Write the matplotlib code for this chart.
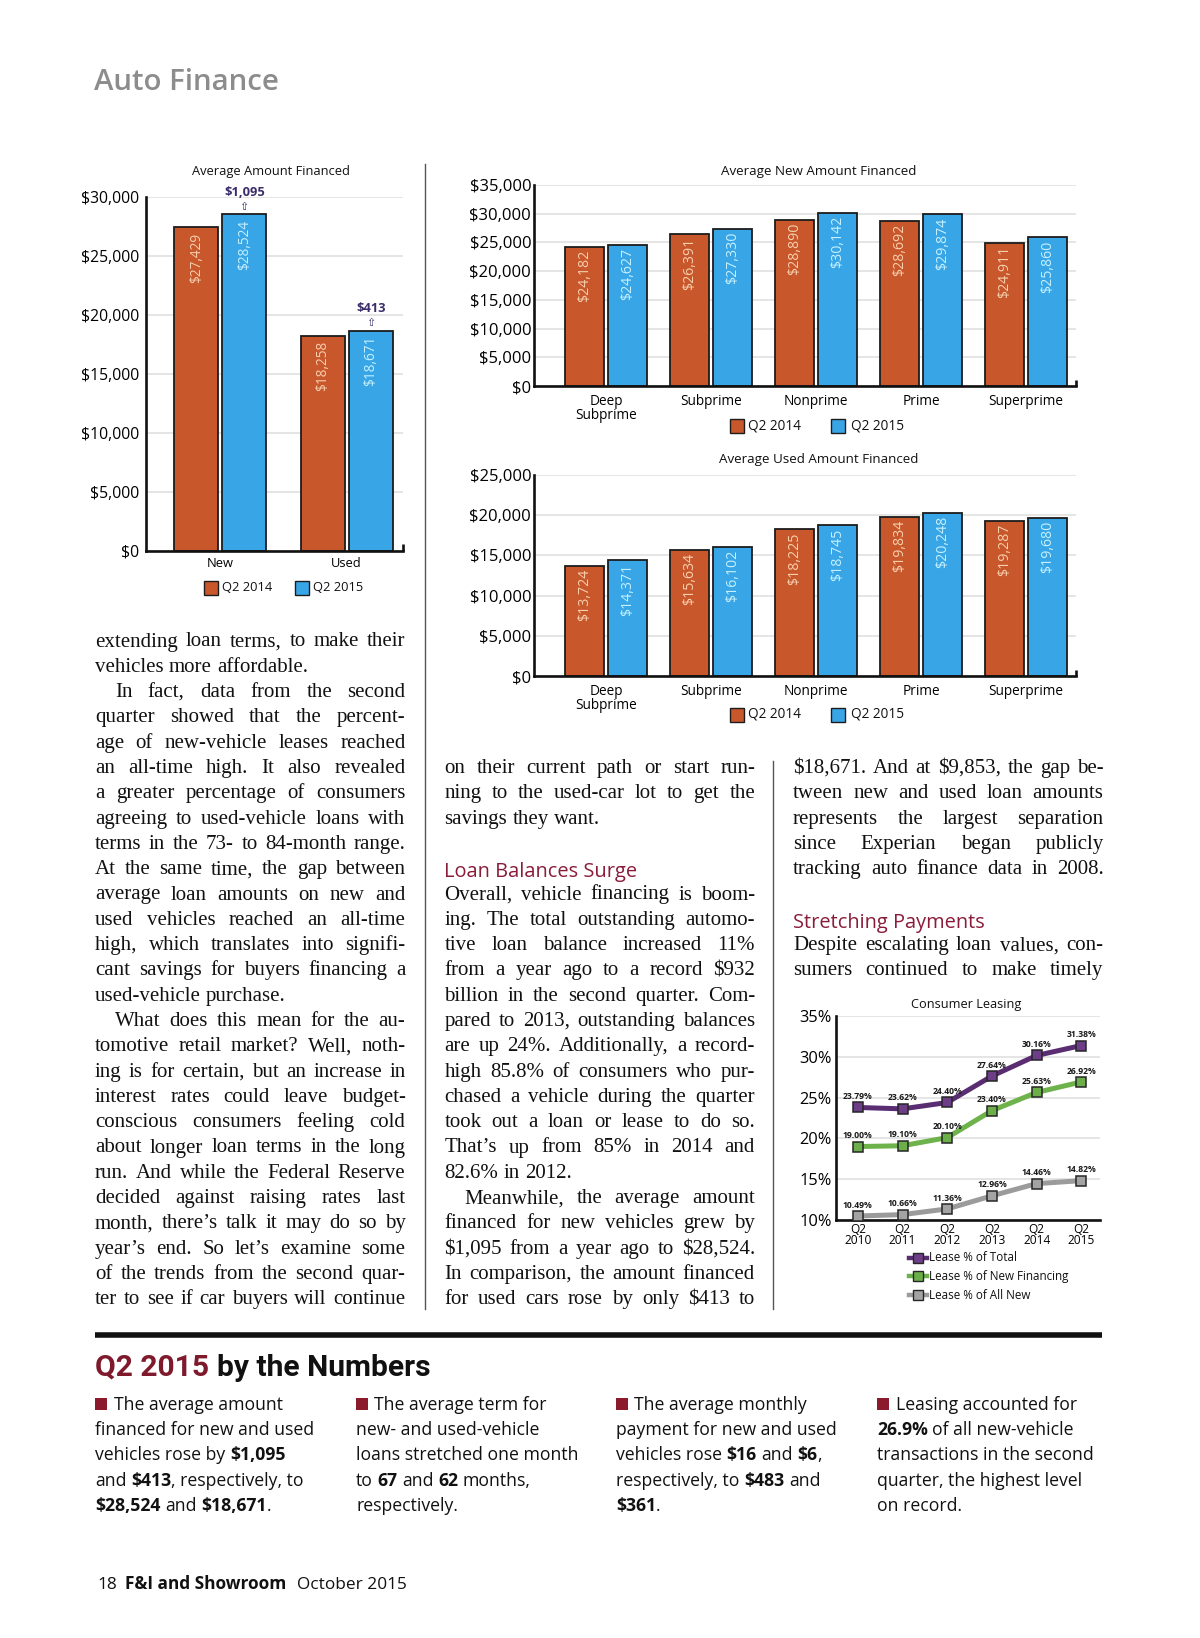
import matplotlib
matplotlib.use('Agg')
import matplotlib.pyplot as plt
from matplotlib.font_manager import FontProperties
from matplotlib.patches import Rectangle
from matplotlib.lines import Line2D
import numpy as np

plt.rcParams['text.parse_math'] = False

# ---------------- data ----------------
overall_cats = ["New", "Used"]
overall_2014 = [27429, 18258]
overall_2015 = [28524, 18671]
overall_change = ["$1,095", "$413"]

tier_cats = ["Deep\nSubprime", "Subprime", "Nonprime", "Prime", "Superprime"]
new_2014 = [24182, 26391, 28890, 28692, 24911]
new_2015 = [24627, 27330, 30142, 29874, 25860]
used_2014 = [13724, 15634, 18225, 19834, 19287]
used_2015 = [14371, 16102, 18745, 20248, 19680]

lease_years = ["Q2\n2010", "Q2\n2011", "Q2\n2012", "Q2\n2013", "Q2\n2014", "Q2\n2015"]
lease_total = [23.79, 23.62, 24.40, 27.64, 30.16, 31.38]
lease_newfin = [19.00, 19.10, 20.10, 23.40, 25.63, 26.92]
lease_allnew = [10.49, 10.66, 11.36, 12.96, 14.46, 14.82]
lease_names = ["Lease % of Total", "Lease % of New Financing", "Lease % of All New"]
series_names = ["Q2 2014", "Q2 2015"]

# ---------------- text ----------------
col1 = [
    ("j", "extending loan terms, to make their"),
    ("l", "vehicles more affordable."),
    ("i", "In fact, data from the second"),
    ("j", "quarter showed that the percent-"),
    ("j", "age of new-vehicle leases reached"),
    ("j", "an all-time high. It also revealed"),
    ("j", "a greater percentage of consumers"),
    ("j", "agreeing to used-vehicle loans with"),
    ("j", "terms in the 73- to 84-month range."),
    ("j", "At the same time, the gap between"),
    ("j", "average loan amounts on new and"),
    ("j", "used vehicles reached an all-time"),
    ("j", "high, which translates into signifi-"),
    ("j", "cant savings for buyers financing a"),
    ("l", "used-vehicle purchase."),
    ("i", "What does this mean for the au-"),
    ("j", "tomotive retail market? Well, noth-"),
    ("j", "ing is for certain, but an increase in"),
    ("j", "interest rates could leave budget-"),
    ("j", "conscious consumers feeling cold"),
    ("j", "about longer loan terms in the long"),
    ("j", "run. And while the Federal Reserve"),
    ("j", "decided against raising rates last"),
    ("j", "month, there\u2019s talk it may do so by"),
    ("j", "year\u2019s end. So let\u2019s examine some"),
    ("j", "of the trends from the second quar-"),
    ("j", "ter to see if car buyers will continue"),
]
col2 = [
    ("j", "on their current path or start run-"),
    ("j", "ning to the used-car lot to get the"),
    ("l", "savings they want."),
    ("b", ""),
    ("h", "Loan Balances Surge"),
    ("j", "Overall, vehicle financing is boom-"),
    ("j", "ing. The total outstanding automo-"),
    ("j", "tive loan balance increased 11%"),
    ("j", "from a year ago to a record $932"),
    ("j", "billion in the second quarter. Com-"),
    ("j", "pared to 2013, outstanding balances"),
    ("j", "are up 24%. Additionally, a record-"),
    ("j", "high 85.8% of consumers who pur-"),
    ("j", "chased a vehicle during the quarter"),
    ("j", "took out a loan or lease to do so."),
    ("j", "That\u2019s up from 85% in 2014 and"),
    ("l", "82.6% in 2012."),
    ("i", "Meanwhile, the average amount"),
    ("j", "financed for new vehicles grew by"),
    ("j", "$1,095 from a year ago to $28,524."),
    ("j", "In comparison, the amount financed"),
    ("j", "for used cars rose by only $413 to"),
]
col3 = [
    ("j", "$18,671. And at $9,853, the gap be-"),
    ("j", "tween new and used loan amounts"),
    ("j", "represents the largest separation"),
    ("j", "since Experian began publicly"),
    ("j", "tracking auto finance data in 2008."),
    ("b", ""),
    ("h", "Stretching Payments"),
    ("j", "Despite escalating loan values, con-"),
    ("j", "sumers continued to make timely"),
]
bullets = [
    ["The average amount", "financed for new and used", "vehicles rose by **$1,095**",
     "and **$413**, respectively, to", "**$28,524** and **$18,671**."],
    ["The average term for", "new- and used-vehicle", "loans stretched one month",
     "to **67** and **62** months,", "respectively."],
    ["The average monthly", "payment for new and used", "vehicles rose **$16** and **$6**,",
     "respectively, to **$483** and", "**$361**."],
    ["Leasing accounted for", "**26.9%** of all new-vehicle", "transactions in the second",
     "quarter, the highest level", "on record."],
]

# ---------------- style ----------------
ORANGE = '#c8572c'
BLUE = '#38a6e6'
EDGE = '#1c1c1c'
LBL_OR = '#f8cfae'
LBL_BL = '#c6f0ff'
GRID = '#e3e3e3'
CRIMSON = '#8a1c3a'
SANS = ['Open Sans', 'DejaVu Sans']
SERIF = ['Liberation Serif', 'DejaVu Serif']
HEADF = ['Roboto', 'Liberation Sans', 'DejaVu Sans']

W, H = 1200, 1638
fig = plt.figure(figsize=(W / 100, H / 100), dpi=100)
fig.patch.set_facecolor('white')
ov = fig.add_axes([0, 0, 1, 1])
ov.set_xlim(0, W)
ov.set_ylim(H, 0)
ov.axis('off')
renderer = fig.canvas.get_renderer()


def tw(s, prop):
    w, h, d = renderer.get_text_width_height_descent(s, prop, ismath=False)
    return w


def px_axes(x0, y0, x1, y1):
    return fig.add_axes([x0 / W, 1 - y1 / H, (x1 - x0) / W, (y1 - y0) / H])


# ---------------- page furniture ----------------
ov.text(94, 89.5, "Auto Finance", fontsize=21.2, family=SANS, weight='semibold',
        color='#8c8c8c', va='baseline', ha='left')

ov.plot([424.5, 424.5], [164, 1309], color='#555555', lw=1.0)
ov.plot([773, 773], [761, 1309], color='#555555', lw=1.0)
ov.plot([95, 1102], [1335, 1335], color='#111111', lw=4.0, solid_capstyle='butt')

# body text: choose the largest size (up to 15pt) where every justified line fits
COLW = 310.5


def fits(size):
    prop = FontProperties(family=SERIF, size=size)
    sp = tw("a a", prop) - tw("aa", prop)
    worst = 0
    for lines in (col1, col2, col3):
        for flag, txt in lines:
            if flag in ('j', 'i', 'l'):
                words = txt.split(' ')
                nat = sum(tw(w, prop) for w in words) + 0.72 * sp * (len(words) - 1)
                nat += 20 if flag == 'i' else 0
                worst = max(worst, nat)
    return worst <= COLW


body_size = 15.0
while body_size > 11 and not fits(body_size):
    body_size -= 0.1
body_prop = FontProperties(family=SERIF, size=body_size)
head_prop = FontProperties(family=SANS, size=14.4)
space_w = tw("a a", body_prop) - tw("aa", body_prop)


def draw_column(lines, x0, x1, y0, step):
    for k, (flag, txt) in enumerate(lines):
        y = y0 + k * step
        if flag == 'b':
            continue
        if flag == 'h':
            ov.text(x0, y + 3, txt, fontproperties=head_prop, color=CRIMSON,
                    va='baseline', ha='left')
            continue
        indent = 20 if flag == 'i' else 0
        words = txt.split(' ')
        widths = [tw(w, body_prop) for w in words]
        if flag in ('j', 'i') and len(words) > 1:
            gap = (x1 - x0 - indent - sum(widths)) / (len(words) - 1)
        else:
            gap = space_w
        x = x0 + indent
        for w, wd in zip(words, widths):
            ov.text(x, y, w, fontproperties=body_prop, color='#111111',
                    va='baseline', ha='left')
            x += wd + gap


draw_column(col1, 95, 95 + COLW, 646.5, 25.3)
draw_column(col2, 444.5, 444.5 + COLW, 773, 25.3)
draw_column(col3, 793, 793 + COLW, 773, 25.3)


# mixed bold segments
def draw_segments(x, y, line, size, family):
    parts = line.split('**')
    for idx, part in enumerate(parts):
        if part == '':
            continue
        bold = idx % 2 == 1
        prop = FontProperties(family=family, size=size, weight='bold' if bold else 'normal')
        sp = tw("a a", prop) - tw("aa", prop)
        if part.startswith(' '):
            x += sp
        core = part.strip(' ')
        ov.text(x, y, core, fontproperties=prop, color='#111111', va='baseline', ha='left')
        x += tw(core, prop)
        if part.endswith(' ') and core:
            x += sp
    return x


# Q2 2015 by the Numbers (fit to the original width)
hsize = 23.0
while hsize > 12:
    hp = FontProperties(family=HEADF, size=hsize, weight='bold')
    if tw("Q2 2015 by the Numbers", hp) <= 336:
        break
    hsize -= 0.2
hp = FontProperties(family=HEADF, size=hsize, weight='bold')
hsp = tw("a a", hp) - tw("aa", hp)
ov.text(95, 1376, "Q2 2015", fontproperties=hp, color='#7e1a2c', va='baseline', ha='left')
ov.text(95 + tw("Q2 2015", hp) + hsp, 1376, "by the Numbers", fontproperties=hp,
        color='#111111', va='baseline', ha='left')

bx = [95, 356, 616, 877]
by = [1410, 1435, 1460, 1486, 1511]
for c, lines in enumerate(bullets):
    for r, line in enumerate(lines):
        x = bx[c]
        if r == 0:
            ov.add_patch(Rectangle((bx[c], by[r] - 12.5), 11.5, 12.5,
                                   facecolor='#8b1a2c', edgecolor='none'))
            x = bx[c] + 18.5
        draw_segments(x, by[r], line, 12.7, SANS)

# footer
fprop = FontProperties(family=SANS, size=12.4)
fbold = FontProperties(family=SANS, size=12.4, weight='bold')
ov.text(97, 1589, "18", fontproperties=fprop, va='baseline', color='#111111')
ov.text(125, 1589, "F&I and Showroom", fontproperties=fbold, va='baseline', color='#111111')
ov.text(297, 1589, "October 2015", fontproperties=fprop, va='baseline', color='#111111')


# ---------------- chart helpers ----------------
def style_axes(ax, ymax, step, ylab_size, ypad, tick_px):
    ax.set_ylim(0, ymax)
    ticks = np.arange(0, ymax + 1, step)
    ax.set_yticks(ticks)
    ax.set_yticklabels([f"${int(v):,}" for v in ticks], family=SANS, fontsize=ylab_size)
    ax.grid(axis='y', color=GRID, lw=1.3)
    ax.set_axisbelow(True)
    for s in ('top', 'right'):
        ax.spines[s].set_visible(False)
    for s in ('left', 'bottom'):
        ax.spines[s].set_linewidth(1.9)
        ax.spines[s].set_color('#111111')
    ax.tick_params(axis='both', length=0)
    ax.tick_params(axis='y', pad=ypad)
    h = ax.get_position().height * H
    ax.plot([1, 1], [0, tick_px / h], transform=ax.transAxes, color='#111111',
            lw=1.9, clip_on=False, solid_capstyle='butt')


def grouped_bars(ax, v14, v15, off, width, ymax, lsize):
    x = np.arange(len(v14))
    ax.bar(x - off, v14, width, color=ORANGE, edgecolor=EDGE, linewidth=1.3, zorder=2)
    ax.bar(x + off, v15, width, color=BLUE, edgecolor=EDGE, linewidth=1.3, zorder=2)
    for xi, v in zip(x, v14):
        ax.text(xi - off, v - ymax * 0.015, f"${v:,}", rotation=90, ha='center', va='top',
                fontsize=lsize, family=SANS, color=LBL_OR, zorder=3)
    for xi, v in zip(x, v15):
        ax.text(xi + off, v - ymax * 0.015, f"${v:,}", rotation=90, ha='center', va='top',
                fontsize=lsize, family=SANS, color=LBL_BL, zorder=3)
    return x


def legend_squares(y, xs, size=9.8):
    for (sx, tx), col, name in zip(xs, [ORANGE, BLUE], series_names):
        ov.add_patch(Rectangle((sx, y - 7), 14, 14, facecolor=col, edgecolor=EDGE, lw=1.0))
        ov.text(tx, y, name, family=SANS, fontsize=size, va='center', ha='left', color='#111111')


# ---------------- chart 1: Average Amount Financed ----------------
ax1 = px_axes(146, 197, 403, 551)
style_axes(ax1, 30000, 5000, 11.3, 5, 7)
xs1 = grouped_bars(ax1, overall_2014, overall_2015, 0.19, 0.345, 30000, 9.8)
ax1.set_xlim(-0.587, 1.445)
ax1.set_xticks(xs1)
ax1.set_xticklabels(overall_cats, family=SANS, fontsize=9.3)
ax1.tick_params(axis='x', pad=4)
for xi, v, lab in zip(xs1, overall_2015, overall_change):
    ax1.annotate("\u21e7", (xi + 0.19, v), xytext=(0, 2), textcoords='offset points',
                 ha='center', va='bottom', fontsize=8, family=['DejaVu Sans'],
                 color='#3b2d6b', annotation_clip=False)
    ax1.annotate(lab, (xi + 0.19, v), xytext=(0, 11), textcoords='offset points',
                 ha='center', va='bottom', fontsize=9.3, family=SANS, weight='bold',
                 color='#3b2d6b', annotation_clip=False)
ov.text(271, 172, "Average Amount Financed", family=SANS, fontsize=9.3, ha='center',
        va='center', color='#111111')
legend_squares(587.5, [(204, 222.5), (295, 313)], size=9.3)

# ---------------- chart 2: Average New Amount Financed ----------------
ax2 = px_axes(534, 185, 1076, 386)
style_axes(ax2, 35000, 5000, 12, 2, 6)
xs2 = grouped_bars(ax2, new_2014, new_2015, 0.207, 0.37, 35000, 10.2)
ax2.set_xlim(-0.686, 4.476)
ax2.set_xticks(xs2)
ax2.set_xticklabels(tier_cats, family=SANS, fontsize=9.8, linespacing=0.85)
ax2.tick_params(axis='x', pad=6)
ov.text(819, 171, "Average New Amount Financed", family=SANS, fontsize=9.6, ha='center',
        va='center', color='#111111')
legend_squares(426, [(730, 748), (831, 851)])

# ---------------- chart 3: Average Used Amount Financed ----------------
ax3 = px_axes(534, 475, 1076, 676)
style_axes(ax3, 25000, 5000, 12, 2, 6)
xs3 = grouped_bars(ax3, used_2014, used_2015, 0.207, 0.37, 25000, 10.2)
ax3.set_xlim(-0.686, 4.476)
ax3.set_xticks(xs3)
ax3.set_xticklabels(tier_cats, family=SANS, fontsize=9.8, linespacing=0.85)
ax3.tick_params(axis='x', pad=6)
ov.text(819, 460, "Average Used Amount Financed", family=SANS, fontsize=9.6, ha='center',
        va='center', color='#111111')
legend_squares(714.5, [(730, 748), (831, 851)])

# ---------------- chart 4: Consumer Leasing ----------------
ax4 = px_axes(836, 1016, 1100, 1220)
ax4.set_ylim(10, 35)
ax4.set_xlim(-0.49, 5.42)
yt = np.arange(10, 36, 5)
ax4.set_yticks(yt)
ax4.set_yticklabels([f"{int(v)}%" for v in yt], family=SANS, fontsize=11.8)
ax4.grid(axis='y', color=GRID, lw=1.3)
ax4.set_axisbelow(True)
for s in ('top', 'right'):
    ax4.spines[s].set_visible(False)
for s in ('left', 'bottom'):
    ax4.spines[s].set_linewidth(1.9)
    ax4.spines[s].set_color('#111111')
ax4.tick_params(axis='both', length=0)
ax4.tick_params(axis='y', pad=3)
ax4.tick_params(axis='x', pad=2)
xl = np.arange(len(lease_years))
ax4.set_xticks(xl)
ax4.set_xticklabels(lease_years, family=SANS, fontsize=8.6, linespacing=0.8)
line_styles = [('#5a2c72', '#6e3d87'), ('#6db24b', '#6cae4a'), ('#9b9b9b', '#a3a3a3')]
for vals, (lc, mc) in zip([lease_total, lease_newfin, lease_allnew], line_styles):
    ax4.plot(xl, vals, color=lc, lw=3.6, marker='s', ms=7.5, mfc=mc, mec='#262626',
             mew=1.1, zorder=3, clip_on=False, solid_joinstyle='round')
    for xi, v in zip(xl, vals):
        ax4.annotate(f"{v:.2f}%", (xi, v), xytext=(0, 4.6), textcoords='offset points',
                     ha='center', va='bottom', fontsize=6.2, family=SANS, weight='bold',
                     color='#1a1a1a', annotation_clip=False, zorder=4)
ov.text(966, 1004.3, "Consumer Leasing", family=SANS, fontsize=9.2, ha='center',
        va='center', color='#111111')
for y, name, (lc, mc) in zip([1257.7, 1276.3, 1295.3], lease_names, line_styles):
    ov.add_line(Line2D([909, 927], [y, y], color=lc, lw=3.2))
    ov.add_line(Line2D([918], [y], marker='s', ms=6.5, mfc=mc, mec='#262626', mew=1.0,
                       linestyle='none'))
    ov.text(929, y, name, family=SANS, fontsize=8.4, ha='left', va='center', color='#111111')

fig.savefig('out.png', dpi=100, facecolor='white')
